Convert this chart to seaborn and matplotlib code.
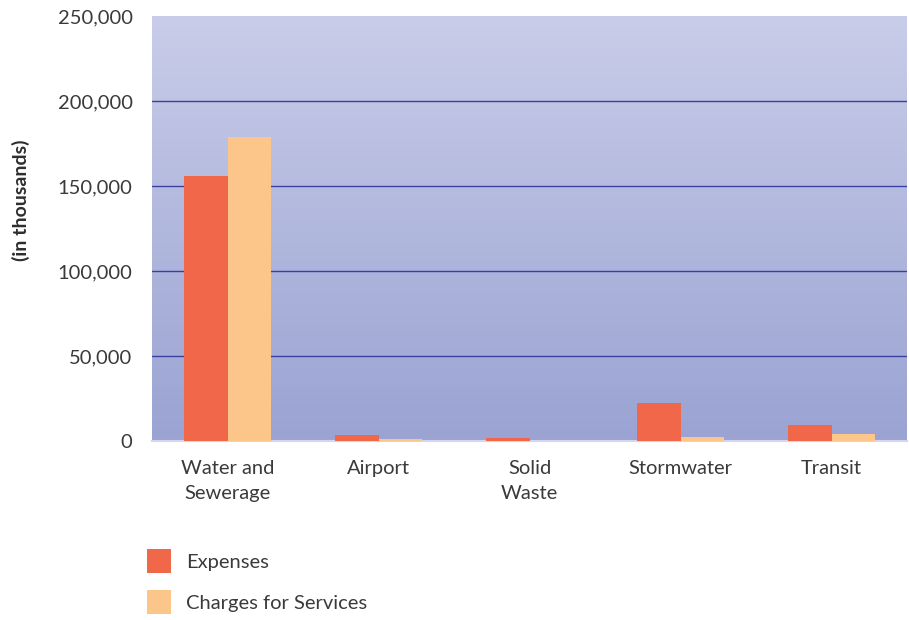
import numpy as np
import pandas as pd
import matplotlib
matplotlib.use("Agg")
import matplotlib.pyplot as plt
import seaborn as sns
from matplotlib.ticker import FuncFormatter

categories = ["Water and\nSewerage", "Airport", "Solid\nWaste", "Stormwater", "Transit"]
expenses = [156000, 3400, 2000, 22200, 9400]
charges = [179000, 1400, 0, 2400, 4100]
series = ["Expenses", "Charges for Services"]
colors = ["#f0674a", "#fcc68a"]
yticks = [0, 50000, 100000, 150000, 200000, 250000]

df = pd.DataFrame({
    "category": categories * 2,
    "value": expenses + charges,
    "series": [series[0]] * len(categories) + [series[1]] * len(categories),
})

sns.set_theme(style="white")
plt.rcParams["font.family"] = ["Lato", "DejaVu Sans"]

fig = plt.figure(figsize=(9.09, 6.2), dpi=100)
ax = fig.add_axes([152 / 909, 1 - 441 / 620, 755 / 909, 425 / 620])

# gradient background
grad = np.linspace(0, 1, 256).reshape(-1, 1)
top = np.array(matplotlib.colors.to_rgb("#c9cde9"))
bot = np.array(matplotlib.colors.to_rgb("#9aa3d2"))
img = top[None, None, :] * (1 - grad[:, :, None]) + bot[None, None, :] * grad[:, :, None]
ax.patch.set_visible(False)
ax.imshow(img, extent=[0, 1, 0, 1], transform=ax.transAxes, aspect="auto", zorder=0)

sns.barplot(data=df, x="category", y="value", hue="series", palette=colors,
            width=0.57, ax=ax, zorder=3, saturation=1, edgecolor="none", legend=True)

ax.set_xlim(-0.5, 4.5)
ax.set_ylim(0, 250000)
ax.set_yticks(yticks)
ax.yaxis.set_major_formatter(FuncFormatter(lambda v, p: f"{int(v):,}"))
for y in yticks[1:-1]:
    ax.axhline(y, color="#3a40a0", lw=1.0, zorder=1)

for s in ["top", "right", "left"]:
    ax.spines[s].set_visible(False)
ax.spines["bottom"].set_color("#d3d6ec")
ax.spines["bottom"].set_linewidth(1.5)

txtc = "#3a3a3a"
ax.tick_params(axis="y", length=0, pad=14, labelsize=14.5, labelcolor=txtc)
ax.tick_params(axis="x", length=0, pad=14, labelsize=14.5, labelcolor=txtc)
for lbl in ax.get_xticklabels():
    lbl.set_linespacing(1.55)
ax.set_xlabel("")
ax.set_ylabel("(in thousands)", fontsize=14, color="#2e2e2e", fontweight="bold")
ax.yaxis.set_label_coords((30 - 152) / 755, (441 - 200) / 425)

handles, labels = ax.get_legend_handles_labels()
ax.legend_.remove()
leg = fig.legend(handles, labels, loc="upper left", bbox_to_anchor=(129 / 909, 1 - 531 / 620),
                 frameon=False, handlelength=1.2, handleheight=1.45,
                 labelspacing=0.85, handletextpad=0.75, labelcolor=txtc,
                 prop={"size": 14.5})

fig.savefig("out.png", dpi=100)
